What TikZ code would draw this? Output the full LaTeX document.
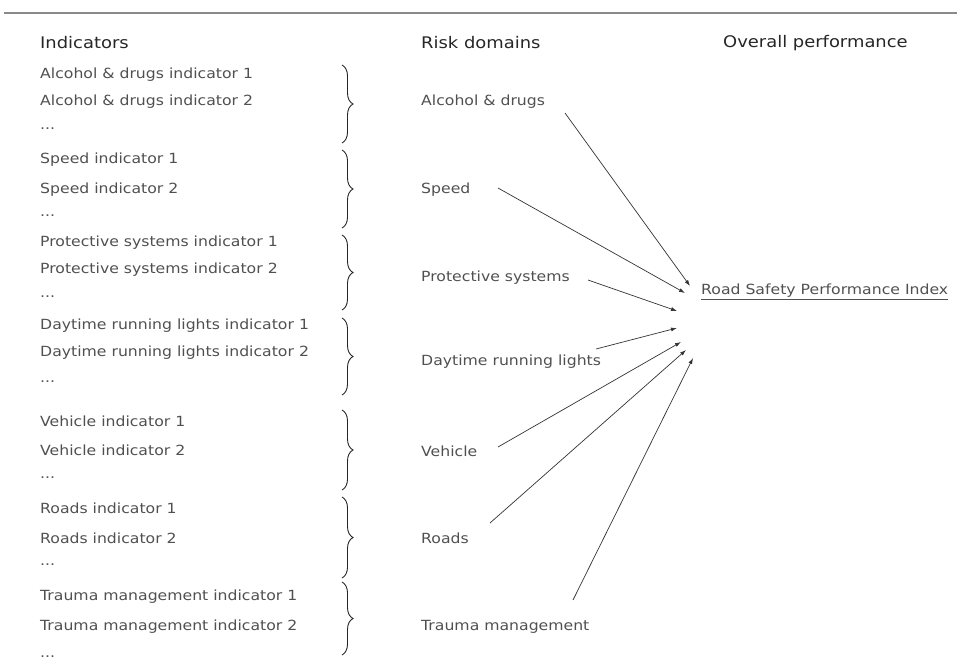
\documentclass[tikz,border=0pt]{standalone}
\usepackage{fontspec}
\setmainfont{DejaVu Sans}[FakeStretch=1.12]
\usetikzlibrary{decorations.pathreplacing,arrows.meta}
\definecolor{txt}{HTML}{505050}
\definecolor{rule}{HTML}{8A8A8A}
\begin{document}
\begin{tikzpicture}[x=1pt,y=-1pt,
  lbl/.style={anchor=west,inner sep=0pt,text=txt,font=\fontsize{14}{16}\selectfont},
  hdr/.style={anchor=west,inner sep=0pt,text=black!85,font=\fontsize{16}{18}\selectfont},
  brc/.style={decorate,decoration={brace,amplitude=11pt},draw=black!85,line width=0.9pt},
  arr/.style={-{Latex[length=6pt,width=4pt]},draw=black!80,line width=0.7pt}]
\useasboundingbox (0,0) rectangle (957,666);
\coordinate (r1) at (4,13);
\coordinate (r2) at (957,13);
\draw[rule,line width=1.6pt] (r1) -- (r2);
\node[hdr] (h1) at (40,43) {Indicators};
\node[hdr] (h2) at (421,43) {Risk domains};
\node[hdr] (h3) at (723,43) {Overall performance};
% indicators
\node[lbl] (a1) at (40,75) {Alcohol \& drugs indicator 1};
\node[lbl] (a2) at (40,102) {Alcohol \& drugs indicator 2};
\node[lbl] (a3) at (40,129) {...};
\node[lbl] (b1) at (40,160) {Speed indicator 1};
\node[lbl] (b2) at (40,190) {Speed indicator 2};
\node[lbl] (b3) at (40,216) {...};
\node[lbl] (c1) at (40,243) {Protective systems indicator 1};
\node[lbl] (c2) at (40,270) {Protective systems indicator 2};
\node[lbl] (c3) at (40,297) {...};
\node[lbl] (d1) at (40,326) {Daytime running lights indicator 1};
\node[lbl] (d2) at (40,353) {Daytime running lights indicator 2};
\node[lbl] (d3) at (40,382) {...};
\node[lbl] (e1) at (40,421) {Vehicle indicator 1};
\node[lbl] (e2) at (40,450) {Vehicle indicator 2};
\node[lbl] (e3) at (40,478) {...};
\node[lbl] (f1) at (40,508) {Roads indicator 1};
\node[lbl] (f2) at (40,538) {Roads indicator 2};
\node[lbl] (f3) at (40,565) {...};
\node[lbl] (g1) at (40,597) {Trauma management indicator 1};
\node[lbl] (g2) at (40,627) {Trauma management indicator 2};
\node[lbl] (g3) at (40,657) {...};
% braces
\coordinate (ba1) at (342,65); \coordinate (ba2) at (342,143);
\coordinate (bb1) at (342,150); \coordinate (bb2) at (342,228);
\coordinate (bc1) at (342,235); \coordinate (bc2) at (342,310);
\coordinate (bd1) at (342,318); \coordinate (bd2) at (342,395);
\coordinate (be1) at (342,410); \coordinate (be2) at (342,490);
\coordinate (bf1) at (342,497); \coordinate (bf2) at (342,578);
\coordinate (bg1) at (342,582); \coordinate (bg2) at (342,655);
\draw[brc] (ba1) -- (ba2);
\draw[brc] (bb1) -- (bb2);
\draw[brc] (bc1) -- (bc2);
\draw[brc] (bd1) -- (bd2);
\draw[brc] (be1) -- (be2);
\draw[brc] (bf1) -- (bf2);
\draw[brc] (bg1) -- (bg2);
% risk domains
\node[lbl] (ra) at (421,102) {Alcohol \& drugs};
\node[lbl] (rb) at (421,190) {Speed};
\node[lbl] (rc) at (421,278) {Protective systems};
\node[lbl] (rd) at (421,362) {Daytime running lights};
\node[lbl] (re) at (421,451) {Vehicle};
\node[lbl] (rf) at (421,538) {Roads};
\node[lbl] (rg) at (421,627) {Trauma management};
% target
\node[lbl] (t) at (701,292) {\underline{Road Safety Performance Index}};
% arrow endpoints
\coordinate (sa) at (565,113); \coordinate (ta) at (690,286);
\coordinate (sb) at (498,188); \coordinate (tb) at (685,293);
\coordinate (sc) at (588,280); \coordinate (tc) at (677,311);
\coordinate (sd) at (596,349); \coordinate (td) at (677,328);
\coordinate (se) at (498,447); \coordinate (te) at (681,342);
\coordinate (sf) at (490,523); \coordinate (tf) at (686,350);
\coordinate (sg) at (573,600); \coordinate (tg) at (693,358);
\draw[arr] (sa) -- (ta);
\draw[arr] (sb) -- (tb);
\draw[arr] (sc) -- (tc);
\draw[arr] (sd) -- (td);
\draw[arr] (se) -- (te);
\draw[arr] (sf) -- (tf);
\draw[arr] (sg) -- (tg);
\end{tikzpicture}
\end{document}
